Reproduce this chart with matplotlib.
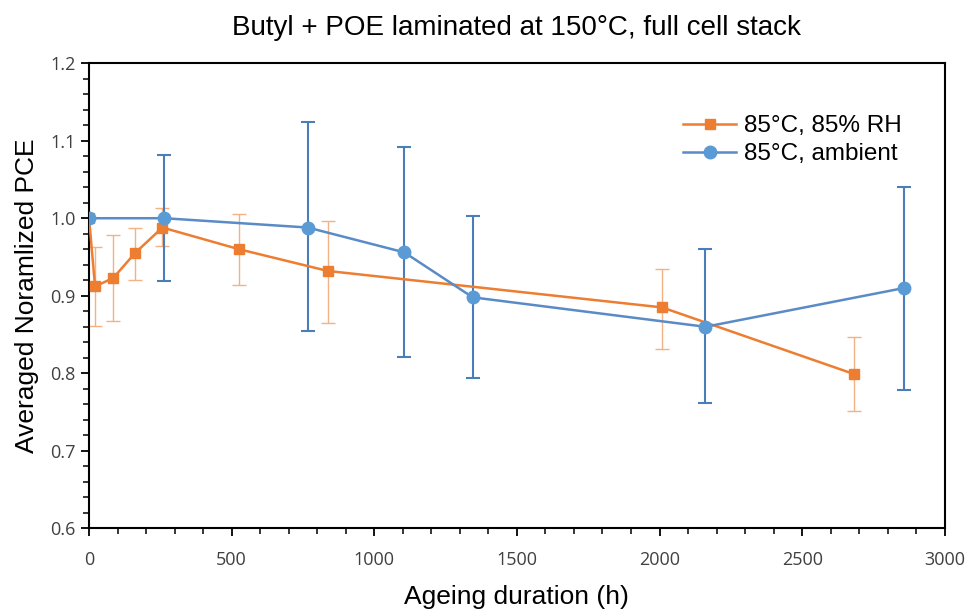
import numpy as np
import matplotlib.pyplot as plt
from matplotlib.ticker import MultipleLocator

# 85C, 85% RH
t_rh = [0, 21, 85, 161, 257, 526, 837, 2009, 2682]
pce_rh = [1.0, 0.912, 0.923, 0.955, 0.988, 0.960, 0.932, 0.885, 0.799]
hi_rh = [1.0, 0.963, 0.978, 0.988, 1.013, 1.006, 0.997, 0.935, 0.847]
lo_rh = [1.0, 0.861, 0.867, 0.920, 0.964, 0.914, 0.865, 0.832, 0.752]

# 85C, ambient
t_amb = [0, 264, 767, 1105, 1345, 2161, 2857]
pce_amb = [1.0, 1.0, 0.988, 0.956, 0.898, 0.860, 0.910]
hi_amb = [1.0, 1.082, 1.124, 1.092, 1.003, 0.960, 1.040]
lo_amb = [1.0, 0.919, 0.854, 0.821, 0.794, 0.762, 0.778]

orange = '#ED7D31'
blue = '#5B9BD5'

fig = plt.figure(figsize=(9.68, 6.13), dpi=100)
ax = fig.add_axes([0.092, 0.138, 0.884, 0.759])

# error bars
err_rh = [np.array(pce_rh) - np.array(lo_rh), np.array(hi_rh) - np.array(pce_rh)]
err_amb = [np.array(pce_amb) - np.array(lo_amb), np.array(hi_amb) - np.array(pce_amb)]
ax.errorbar(t_rh, pce_rh, yerr=err_rh, fmt='none', ecolor='#F4B183', elinewidth=1,
            capsize=5, capthick=1, zorder=2)
ax.errorbar(t_amb, pce_amb, yerr=err_amb, fmt='none', ecolor='#4A7EBB', elinewidth=1.5,
            capsize=5, capthick=1.5, zorder=2)

ax.plot(t_rh, pce_rh, color=orange, marker='s', markersize=7, lw=1.8,
        label='85°C, 85% RH', zorder=3)
ax.plot(t_amb, pce_amb, color='#5A8BC6', marker='o', markersize=9, lw=1.8,
        markerfacecolor=blue, markeredgecolor=blue, label='85°C, ambient', zorder=4)

ax.set_xlim(0, 3000)
ax.set_ylim(0.6, 1.2)
ax.xaxis.set_major_locator(MultipleLocator(500))
ax.xaxis.set_minor_locator(MultipleLocator(100))
ax.yaxis.set_major_locator(MultipleLocator(0.1))
ax.yaxis.set_minor_locator(MultipleLocator(0.02))
ax.yaxis.set_major_formatter(plt.FormatStrFormatter('%.1f'))

for s in ax.spines.values():
    s.set_linewidth(1.5)
ax.tick_params(which='major', direction='out', length=6, width=1.3,
               labelsize=13, colors='black')
ax.tick_params(which='minor', direction='out', length=4, width=1.1)
ax.tick_params(axis='x', pad=10)
for lab in ax.get_xticklabels() + ax.get_yticklabels():
    lab.set_color('#404040')
    lab.set_family('Open Sans')

ax.set_title('Butyl + POE laminated at 150°C, full cell stack', fontsize=20,
             family='Liberation Sans', pad=20)
ax.set_xlabel('Ageing duration (h)', fontsize=19, family='Liberation Sans', labelpad=12)
ax.set_ylabel('Averaged Noramlized PCE', fontsize=19, family='Liberation Sans', labelpad=8)

leg = ax.legend(loc='upper right', bbox_to_anchor=(0.975, 0.935), frameon=False,
                prop={'family': 'Liberation Sans', 'size': 17.5}, handlelength=2.2,
                handletextpad=0.3, labelspacing=0.25)

fig.savefig('out.png', dpi=100)
